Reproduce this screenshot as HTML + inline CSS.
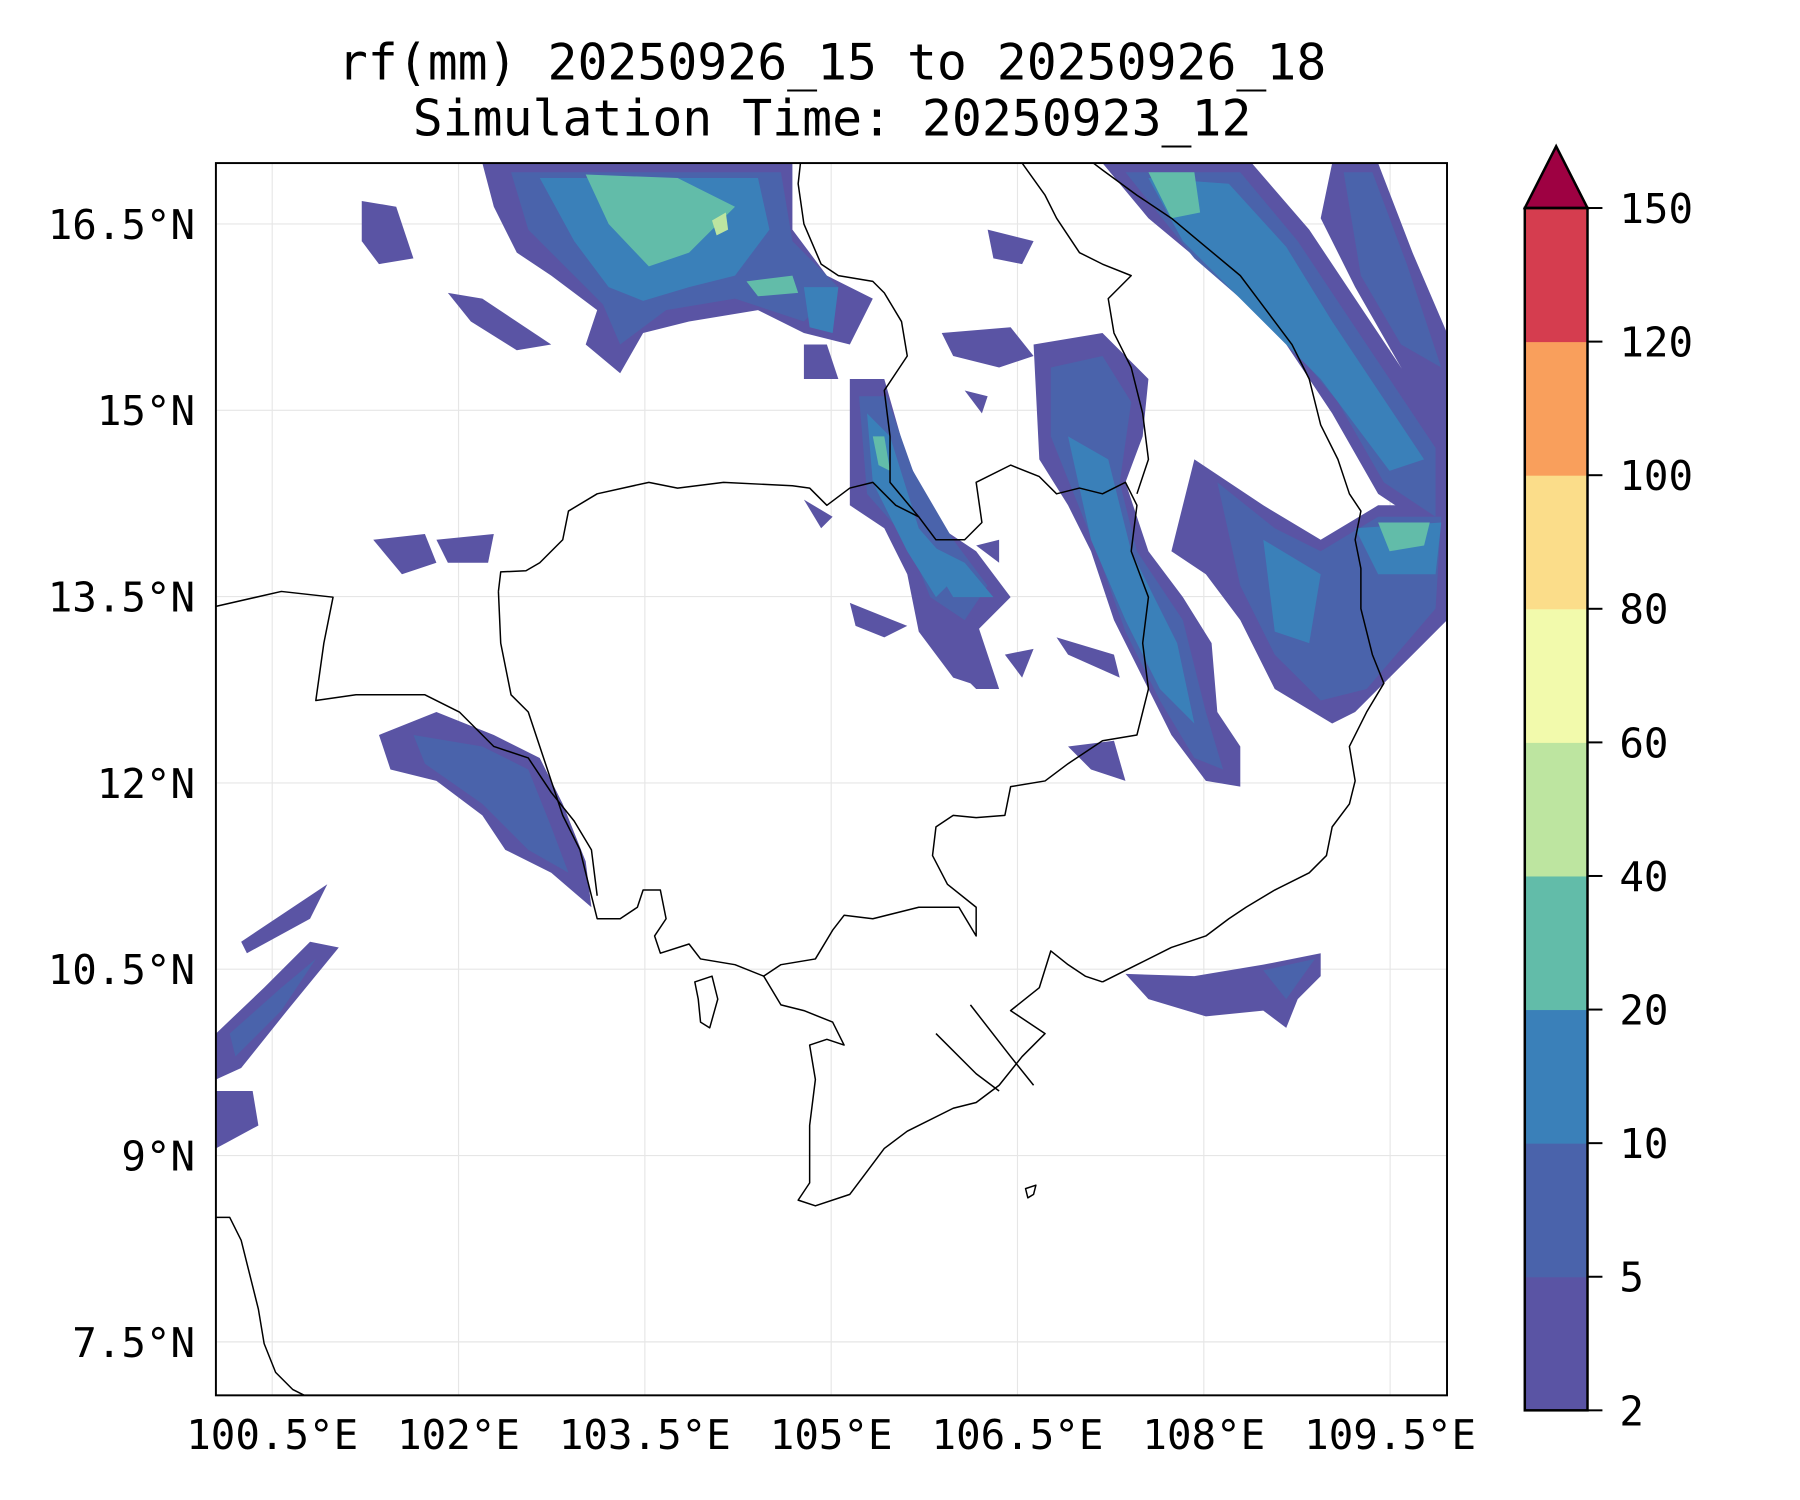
<!DOCTYPE html>
<html><head><meta charset="utf-8"><style>
html,body{margin:0;padding:0;background:#fff;}
svg{display:block;font-family:"DejaVu Sans Mono","Liberation Mono",monospace;}
</style></head><body>
<svg id="fig" width="1800" height="1500" viewBox="0 0 1800 1500" xmlns="http://www.w3.org/2000/svg">
<rect width="1800" height="1500" fill="#fff"/>
<g transform="scale(0.9953)">
<text x="836" y="80" font-size="50" text-anchor="middle">rf(mm) 20250926_15 to 20250926_18</text>
<text x="836" y="136" font-size="50" text-anchor="middle">Simulation Time: 20250923_12</text>
<defs><clipPath id="clipMap"><rect x="188" y="142" width="1072" height="1073"/></clipPath></defs>
<g id="map" transform="scale(1.15385)">
 <g id="grid"></g>
 <g clip-path="url(#clipMap)">
  <g fill="#5a54a4">
   <polygon points="420,142 690,142 690,200 720,240 760,260 740,300 700,290 660,270 600,280 560,290 540,325 510,300 520,270 480,240 450,220 430,180"/>
   <polygon points="960,142 1090,142 1140,200 1180,260 1260,380 1260,470 1200,430 1160,360 1120,300 1060,240 1000,190"/>
   <polygon points="1160,142 1200,142 1230,220 1260,290 1260,400 1220,320 1180,250 1150,190"/>
   <polygon points="900,300 960,290 1000,330 995,380 980,420 1000,480 1030,520 1055,560 1060,620 1080,650 1080,685 1050,680 1020,640 1000,600 970,540 950,480 930,440 905,400"/>
   <polygon points="1040,400 1100,440 1150,470 1200,440 1260,440 1260,540 1230,570 1180,620 1160,630 1110,600 1080,540 1050,500 1020,480"/>
   <polygon points="740,330 770,330 790,400 820,460 850,480 880,520 860,540 840,560 860,600 830,590 800,550 790,500 770,460 740,440 740,390"/>
   <polygon points="330,640 380,620 430,640 470,660 490,700 510,750 515,790 480,760 440,740 420,710 380,680 340,670"/>
   <polygon points="188,900 230,860 270,820 295,825 250,880 210,930 188,940"/>
   <polygon points="188,950 220,950 225,980 188,1000"/>
   <polygon points="210,820 285,770 270,800 215,830"/>
   <polygon points="980,848 1040,850 1100,840 1150,830 1150,850 1130,870 1120,895 1100,880 1050,885 1000,870"/>
   <polygon points="325,470 370,465 380,490 350,500"/>
   <polygon points="380,470 430,465 425,490 390,490"/>
   <polygon points="740,525 790,545 770,555 745,545"/>
   <polygon points="850,475 870,470 870,490"/>
   <polygon points="840,340 860,345 855,360"/>
   <polygon points="920,555 970,570 975,590 930,570"/>
   <polygon points="875,570 900,565 890,590"/>
   <polygon points="930,650 970,645 980,680 950,670"/>
   <polygon points="700,435 725,450 715,460"/>
   <polygon points="315,175 345,180 360,225 330,230 315,210"/>
   <polygon points="390,255 420,260 480,300 450,305 410,280"/>
   <polygon points="700,300 720,300 730,330 700,330"/>
   <polygon points="820,290 880,285 900,310 870,320 830,310"/>
   <polygon points="860,200 900,210 890,230 865,225"/>
   <polygon points="800,520 850,540 870,600 850,600 820,570"/>
  </g>
  <g fill="#4a63ab">
   <polygon points="445,150 680,150 690,210 730,250 700,280 640,260 580,270 540,300 525,265 490,230 460,200"/>
   <polygon points="980,150 1080,150 1130,210 1170,270 1250,390 1250,450 1205,420 1165,350 1115,290 1040,225"/>
   <polygon points="1170,150 1195,150 1225,230 1255,320 1220,300 1185,240"/>
   <polygon points="915,320 960,310 985,350 975,420 990,480 1030,540 1050,620 1065,670 1040,660 1010,610 980,550 955,480 935,430 915,380"/>
   <polygon points="1060,420 1110,460 1150,480 1200,450 1255,450 1250,530 1190,600 1150,610 1110,570 1080,510"/>
   <polygon points="748,345 772,345 795,410 830,470 860,510 840,540 810,520 790,470 755,430"/>
   <polygon points="360,640 420,650 460,670 480,720 495,760 460,740 420,700 370,665"/>
   <polygon points="200,900 245,860 275,835 245,880 205,920"/>
   <polygon points="1100,845 1145,835 1120,870"/>
  </g>
  <g fill="#3a80b9">
   <polygon points="470,155 660,155 670,200 640,240 600,250 560,262 530,250 500,210"/>
   <polygon points="1000,155 1070,160 1120,215 1160,280 1240,400 1210,410 1150,330 1090,270 1030,210"/>
   <polygon points="930,380 965,400 985,480 1025,560 1040,630 1010,600 980,540 950,470"/>
   <polygon points="1180,460 1255,455 1250,500 1200,500"/>
   <polygon points="1100,470 1150,500 1140,560 1110,550"/>
   <polygon points="755,360 775,380 800,460 835,500 815,520 790,480 760,420"/>
   <polygon points="800,470 840,490 865,520 830,520"/>
   <polygon points="700,250 730,250 725,290 705,285"/>
  </g>
  <g fill="#62bca9">
   <polygon points="510,152 590,155 640,180 600,220 565,232 530,195"/>
   <polygon points="1000,150 1040,150 1045,185 1020,190"/>
   <polygon points="1200,455 1245,455 1240,475 1210,480"/>
   <polygon points="650,245 690,240 695,255 660,258"/>
   <polygon points="760,380 770,380 775,410 765,405"/>
  </g>
  <g fill="#bde5a0">
   <polygon points="620,192 632,185 634,200 624,205"/>
  </g>
 </g>
 <g fill="none" stroke="#000" stroke-width="1.3" stroke-linejoin="round" clip-path="url(#clipMap)">
  <polyline points="434,515 436,498 458,497 470,490 490,470 495,445 520,430 565,420 590,425 630,420 690,423 705,425 720,440 740,425 760,420 780,440 800,450 815,470 840,470 855,455 850,420 880,405 905,415 920,430 940,425 960,430 980,420 990,440 985,480 1000,520 995,560 1000,600 990,640 960,645 930,665 910,680 880,685 875,710 850,712 830,710 815,720 812,745 825,770 850,790 850,815 835,790 800,790 780,795 760,800 735,797 725,810 710,835 680,840 665,850 640,840 610,835 600,822 575,830 570,815 580,800 575,775 560,775 555,790 540,800 520,800 515,780 505,740 490,710 480,680 470,650 460,620 445,605 440,580 436,560 434,515"/>
  <polyline points="960,855 990,840 1020,825 1050,815 1070,800 1085,790 1110,775 1140,760 1155,745 1160,720 1175,700 1180,680 1175,650 1190,620 1205,595 1195,570 1185,530 1185,495 1180,470 1185,445 1175,430 1165,400 1150,370 1140,330 1125,300 1110,280 1095,260 1080,240 1050,215 1020,190 990,170 960,148 952,142"/>
  <polyline points="990,430 1000,400 995,360 985,320 970,290 965,260 985,240 960,230 940,220 920,190 910,170 890,142"/>
  <polyline points="800,450 775,420 775,380 770,340 790,310 785,280 770,255 760,245 730,240 715,230 700,195 695,160 697,142"/>
  <polyline points="188,528 245,515 290,520 282,560 275,610 310,605 370,605 400,620 430,650 460,660 480,690 500,715 515,740 520,780"/>
  <polyline points="960,855 945,850 930,840 915,828 905,860 880,880 910,900 890,920 870,945 850,960 830,965 790,985 770,1000 755,1020 740,1040 710,1050 695,1045 705,1030 705,980 710,940 705,910 720,905 735,910 725,890 700,880 680,875 665,850"/>
  <polyline points="188,1060 200,1060 210,1080 215,1100 220,1120 225,1140 230,1170 240,1195 255,1210 265,1215"/>
  <polygon points="605,855 620,850 625,870 618,895 610,890 608,870"/>
  <polyline points="845,875 880,920 900,945"/>
  <polyline points="815,900 850,935 870,950"/>
  <polygon points="893,1035 902,1032 900,1040 895,1043"/>
 </g>
 <rect x="188" y="142" width="1072" height="1073" fill="none" stroke="#000" stroke-width="1.7"/>
</g>
<g id="axisLabels" font-size="41"></g>
<g id="cbar"></g>
</g>
<script>
var lonTicks = [100.5, 102, 103.5, 105, 106.5, 108, 109.5];
var lonLabels = ["100.5°E","102°E","103.5°E","105°E","106.5°E","108°E","109.5°E"];
var latTicks = [16.5, 15, 13.5, 12, 10.5, 9, 7.5];
var latLabels = ["16.5°N","15°N","13.5°N","12°N","10.5°N","9°N","7.5°N"];
var cbLevels = [2, 5, 10, 20, 40, 60, 80, 100, 120, 150];
var cbColors = ["#5a54a4","#4a63ab","#3a80b9","#62bca9","#bde5a0","#f2faac","#fbdd8a","#f99f5c","#d53d4f"];
var extendColor = "#9e0142";
var NS = "http://www.w3.org/2000/svg";
function mk(t, a, p){ var e=document.createElementNS(NS,t); for(var k in a) e.setAttribute(k,a[k]); p.appendChild(e); return e; }
function xOf(lon){ return 273.5 + (lon - 100.5) * 124.8; }
function yOf(lat){ return 225 + (16.5 - lat) * 124.8; }
var S = 1.15385;
var grid = document.getElementById('grid');
var lab = document.getElementById('axisLabels');
lonTicks.forEach(function(v,i){
  var l = mk('line',{x1:xOf(v)/S,x2:xOf(v)/S,y1:142,y2:1215,stroke:'#e6e6e6','stroke-width':1},grid);
  
  
  var t = mk('text',{x:xOf(v),y:1456,'text-anchor':'middle'},lab);
  t.textContent = lonLabels[i];
  
  
});
latTicks.forEach(function(v,i){
  var l = mk('line',{x1:188,x2:1260,y1:yOf(v)/S,y2:yOf(v)/S,stroke:'#e6e6e6','stroke-width':1},grid);
  
  
  var t = mk('text',{x:196,y:yOf(v)+15,'text-anchor':'end'},lab);
  t.textContent = latLabels[i];
  
  
});
var cb = document.getElementById('cbar');
var cbX = 1532, cbW = 63, cbTop = 209, cbBot = 1417;
var n = cbLevels.length - 1, h = (cbBot - cbTop) / n;
function cbY(i){ return cbBot - i * h; }
for (var i = 0; i < n; i++){
  var r = mk('rect',{x:cbX,y:cbY(i+1),width:cbW,height:h+0.5,fill:cbColors[i]},cb);
  
  
}
var tri = mk('polygon',{points:cbX+','+cbTop+' '+(cbX+cbW/2)+',147 '+(cbX+cbW)+','+cbTop,fill:extendColor,stroke:'#000','stroke-width':2.5},cb);


var fr = mk('rect',{x:cbX,y:cbTop,width:cbW,height:cbBot-cbTop,fill:'none',stroke:'#000','stroke-width':2.5},cb);


cbLevels.forEach(function(v,i){
  var tk = mk('line',{x1:cbX+cbW,x2:cbX+cbW+15,y1:cbY(i),y2:cbY(i),stroke:'#000','stroke-width':2},cb);
  
  
  var t = mk('text',{x:1627,y:cbY(i)+15,'font-size':41},cb);
  t.textContent = String(v);
  
  
});
</script>
</svg>
</body></html>
